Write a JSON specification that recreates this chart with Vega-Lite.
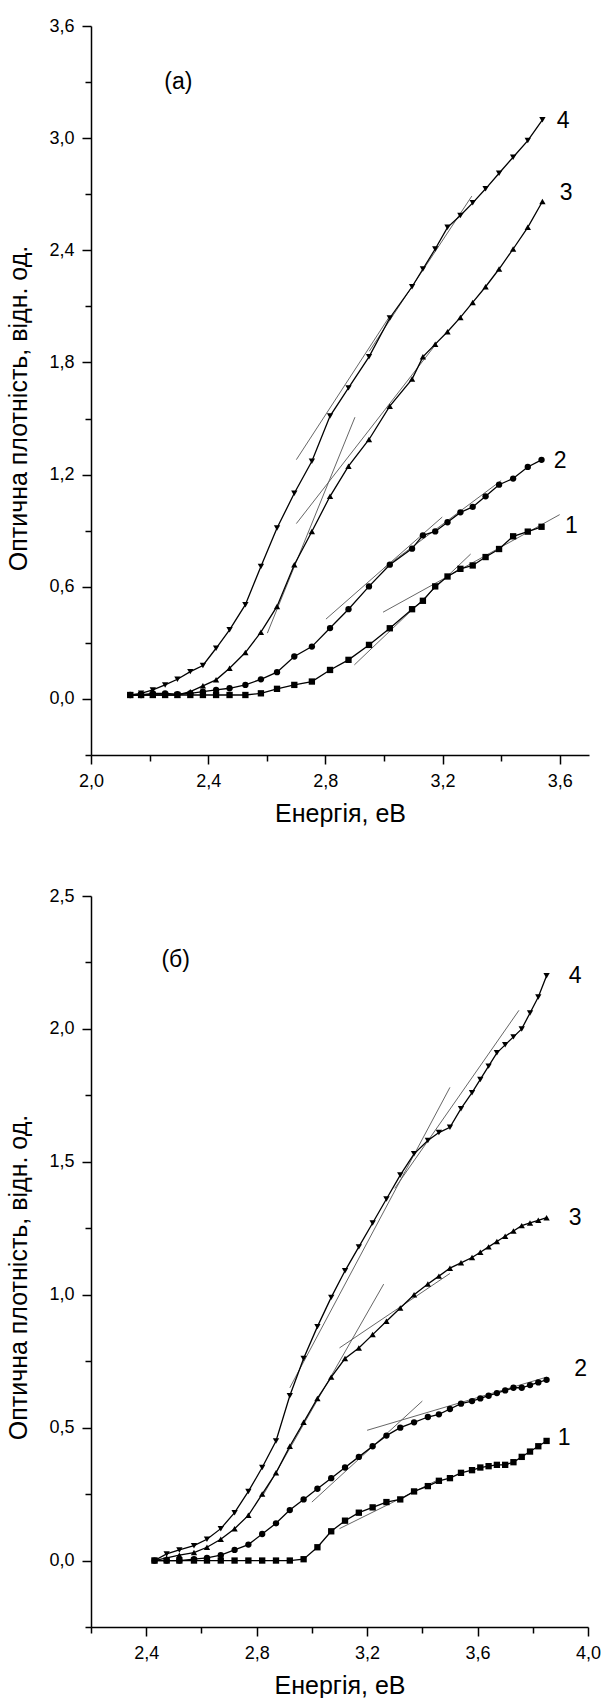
{
  "$schema": "https://vega.github.io/schema/vega-lite/v6.json",
  "background": "white",
  "padding": {"left": 6, "top": 17, "right": 0, "bottom": 0},
  "spacing": 61,
  "config": {
    "font": "Liberation Sans",
    "view": {"stroke": null},
    "axis": {
      "domainColor": "black", "domainWidth": 1.5, "tickColor": "black", "tickWidth": 1.5,
      "labelFont": "Liberation Sans", "labelFontSize": 18, "labelColor": "black",
      "titleFont": "Liberation Sans", "titleFontSize": 25, "titleFontWeight": "normal", "titleColor": "black",
      "grid": false, "labelPadding": 8, "labelFlush": false, "labelOverlap": false, "labelBound": false
    },
    "text": {"font": "Liberation Sans", "color": "black"}
  },
  "datasets": {
    "pa": [
      {"e":2.134,"v":0.021,"c":"1"},{"e":2.171,"v":0.021,"c":"1"},{"e":2.211,"v":0.021,"c":"1"},{"e":2.253,"v":0.021,"c":"1"},{"e":2.295,"v":0.021,"c":"1"},{"e":2.339,"v":0.021,"c":"1"},{"e":2.382,"v":0.021,"c":"1"},{"e":2.427,"v":0.021,"c":"1"},{"e":2.473,"v":0.021,"c":"1"},{"e":2.527,"v":0.021,"c":"1"},{"e":2.580,"v":0.030,"c":"1"},{"e":2.635,"v":0.054,"c":"1"},{"e":2.694,"v":0.075,"c":"1"},{"e":2.754,"v":0.093,"c":"1"},{"e":2.816,"v":0.155,"c":"1"},{"e":2.879,"v":0.209,"c":"1"},{"e":2.949,"v":0.289,"c":"1"},{"e":3.020,"v":0.378,"c":"1"},{"e":3.096,"v":0.480,"c":"1"},{"e":3.133,"v":0.525,"c":"1"},{"e":3.175,"v":0.602,"c":"1"},{"e":3.217,"v":0.655,"c":"1"},{"e":3.261,"v":0.696,"c":"1"},{"e":3.303,"v":0.714,"c":"1"},{"e":3.347,"v":0.759,"c":"1"},{"e":3.393,"v":0.802,"c":"1"},{"e":3.441,"v":0.870,"c":"1"},{"e":3.491,"v":0.895,"c":"1"},{"e":3.538,"v":0.921,"c":"1"},
      {"e":2.134,"v":0.021,"c":"2"},{"e":2.171,"v":0.021,"c":"2"},{"e":2.211,"v":0.030,"c":"2"},{"e":2.253,"v":0.030,"c":"2"},{"e":2.295,"v":0.025,"c":"2"},{"e":2.339,"v":0.030,"c":"2"},{"e":2.382,"v":0.039,"c":"2"},{"e":2.427,"v":0.048,"c":"2"},{"e":2.473,"v":0.057,"c":"2"},{"e":2.527,"v":0.075,"c":"2"},{"e":2.580,"v":0.105,"c":"2"},{"e":2.635,"v":0.143,"c":"2"},{"e":2.694,"v":0.227,"c":"2"},{"e":2.754,"v":0.280,"c":"2"},{"e":2.816,"v":0.379,"c":"2"},{"e":2.879,"v":0.480,"c":"2"},{"e":2.949,"v":0.602,"c":"2"},{"e":3.020,"v":0.718,"c":"2"},{"e":3.096,"v":0.804,"c":"2"},{"e":3.133,"v":0.875,"c":"2"},{"e":3.175,"v":0.896,"c":"2"},{"e":3.217,"v":0.945,"c":"2"},{"e":3.261,"v":0.998,"c":"2"},{"e":3.303,"v":1.027,"c":"2"},{"e":3.347,"v":1.084,"c":"2"},{"e":3.393,"v":1.146,"c":"2"},{"e":3.441,"v":1.179,"c":"2"},{"e":3.491,"v":1.241,"c":"2"},{"e":3.538,"v":1.279,"c":"2"},
      {"e":2.134,"v":0.021,"c":"3"},{"e":2.171,"v":0.021,"c":"3"},{"e":2.211,"v":0.021,"c":"3"},{"e":2.253,"v":0.021,"c":"3"},{"e":2.295,"v":0.021,"c":"3"},{"e":2.339,"v":0.039,"c":"3"},{"e":2.382,"v":0.070,"c":"3"},{"e":2.427,"v":0.102,"c":"3"},{"e":2.473,"v":0.164,"c":"3"},{"e":2.527,"v":0.248,"c":"3"},{"e":2.580,"v":0.357,"c":"3"},{"e":2.635,"v":0.495,"c":"3"},{"e":2.694,"v":0.718,"c":"3"},{"e":2.754,"v":0.896,"c":"3"},{"e":2.816,"v":1.084,"c":"3"},{"e":2.879,"v":1.245,"c":"3"},{"e":2.949,"v":1.388,"c":"3"},{"e":3.020,"v":1.566,"c":"3"},{"e":3.096,"v":1.711,"c":"3"},{"e":3.133,"v":1.830,"c":"3"},{"e":3.175,"v":1.898,"c":"3"},{"e":3.217,"v":1.964,"c":"3"},{"e":3.261,"v":2.041,"c":"3"},{"e":3.303,"v":2.121,"c":"3"},{"e":3.347,"v":2.205,"c":"3"},{"e":3.393,"v":2.300,"c":"3"},{"e":3.441,"v":2.407,"c":"3"},{"e":3.491,"v":2.523,"c":"3"},{"e":3.541,"v":2.661,"c":"3"},
      {"e":2.134,"v":0.021,"c":"4"},{"e":2.171,"v":0.030,"c":"4"},{"e":2.211,"v":0.048,"c":"4"},{"e":2.253,"v":0.075,"c":"4"},{"e":2.295,"v":0.105,"c":"4"},{"e":2.339,"v":0.146,"c":"4"},{"e":2.382,"v":0.179,"c":"4"},{"e":2.427,"v":0.271,"c":"4"},{"e":2.473,"v":0.370,"c":"4"},{"e":2.527,"v":0.504,"c":"4"},{"e":2.580,"v":0.709,"c":"4"},{"e":2.635,"v":0.914,"c":"4"},{"e":2.694,"v":1.100,"c":"4"},{"e":2.754,"v":1.271,"c":"4"},{"e":2.816,"v":1.513,"c":"4"},{"e":2.879,"v":1.664,"c":"4"},{"e":2.949,"v":1.830,"c":"4"},{"e":3.020,"v":2.038,"c":"4"},{"e":3.096,"v":2.205,"c":"4"},{"e":3.133,"v":2.300,"c":"4"},{"e":3.175,"v":2.407,"c":"4"},{"e":3.217,"v":2.523,"c":"4"},{"e":3.261,"v":2.586,"c":"4"},{"e":3.303,"v":2.654,"c":"4"},{"e":3.347,"v":2.729,"c":"4"},{"e":3.393,"v":2.812,"c":"4"},{"e":3.441,"v":2.898,"c":"4"},{"e":3.491,"v":2.987,"c":"4"},{"e":3.541,"v":3.098,"c":"4"}
    ],
    "ta": [
      {"x1":2.899,"y1":0.182,"x2":3.296,"y2":0.775},
      {"x1":2.997,"y1":0.464,"x2":3.600,"y2":0.986},
      {"x1":2.802,"y1":0.427,"x2":3.199,"y2":0.973},
      {"x1":3.000,"y1":0.700,"x2":3.400,"y2":1.168},
      {"x1":2.602,"y1":0.352,"x2":2.901,"y2":1.507},
      {"x1":2.701,"y1":0.938,"x2":3.182,"y2":1.907},
      {"x1":2.701,"y1":1.280,"x2":3.017,"y2":2.041},
      {"x1":2.950,"y1":1.860,"x2":3.300,"y2":2.690}
    ],
    "la": [
      {"e":3.59,"v":3.09,"t":"4"},{"e":3.60,"v":2.705,"t":"3"},{"e":3.58,"v":1.275,"t":"2"},{"e":3.618,"v":0.923,"t":"1"},{"e":2.25,"v":3.30,"t":"(a)"}
    ],
    "pb": [
      {"e":2.43,"v":0.0,"c":"1"},{"e":2.474,"v":0.0,"c":"1"},{"e":2.52,"v":0.0,"c":"1"},{"e":2.573,"v":0.0,"c":"1"},{"e":2.62,"v":0.0,"c":"1"},{"e":2.67,"v":0.0,"c":"1"},{"e":2.72,"v":0.0,"c":"1"},{"e":2.77,"v":0.0,"c":"1"},{"e":2.82,"v":0.0,"c":"1"},{"e":2.87,"v":0.0,"c":"1"},{"e":2.92,"v":0.0,"c":"1"},{"e":2.97,"v":0.005,"c":"1"},{"e":3.02,"v":0.05,"c":"1"},{"e":3.07,"v":0.11,"c":"1"},{"e":3.12,"v":0.15,"c":"1"},{"e":3.17,"v":0.18,"c":"1"},{"e":3.22,"v":0.20,"c":"1"},{"e":3.27,"v":0.22,"c":"1"},{"e":3.32,"v":0.23,"c":"1"},{"e":3.37,"v":0.26,"c":"1"},{"e":3.42,"v":0.28,"c":"1"},{"e":3.46,"v":0.30,"c":"1"},{"e":3.50,"v":0.31,"c":"1"},{"e":3.54,"v":0.33,"c":"1"},{"e":3.58,"v":0.34,"c":"1"},{"e":3.61,"v":0.35,"c":"1"},{"e":3.64,"v":0.355,"c":"1"},{"e":3.67,"v":0.36,"c":"1"},{"e":3.70,"v":0.36,"c":"1"},{"e":3.73,"v":0.37,"c":"1"},{"e":3.76,"v":0.39,"c":"1"},{"e":3.79,"v":0.41,"c":"1"},{"e":3.82,"v":0.43,"c":"1"},{"e":3.85,"v":0.45,"c":"1"},
      {"e":2.43,"v":0.0,"c":"2"},{"e":2.474,"v":0.0,"c":"2"},{"e":2.52,"v":0.0,"c":"2"},{"e":2.573,"v":0.005,"c":"2"},{"e":2.62,"v":0.01,"c":"2"},{"e":2.67,"v":0.02,"c":"2"},{"e":2.72,"v":0.04,"c":"2"},{"e":2.77,"v":0.06,"c":"2"},{"e":2.82,"v":0.10,"c":"2"},{"e":2.87,"v":0.14,"c":"2"},{"e":2.92,"v":0.19,"c":"2"},{"e":2.97,"v":0.23,"c":"2"},{"e":3.02,"v":0.27,"c":"2"},{"e":3.07,"v":0.31,"c":"2"},{"e":3.12,"v":0.35,"c":"2"},{"e":3.17,"v":0.39,"c":"2"},{"e":3.22,"v":0.43,"c":"2"},{"e":3.27,"v":0.47,"c":"2"},{"e":3.32,"v":0.50,"c":"2"},{"e":3.37,"v":0.52,"c":"2"},{"e":3.42,"v":0.54,"c":"2"},{"e":3.46,"v":0.55,"c":"2"},{"e":3.50,"v":0.57,"c":"2"},{"e":3.54,"v":0.59,"c":"2"},{"e":3.58,"v":0.60,"c":"2"},{"e":3.61,"v":0.61,"c":"2"},{"e":3.64,"v":0.62,"c":"2"},{"e":3.67,"v":0.63,"c":"2"},{"e":3.70,"v":0.64,"c":"2"},{"e":3.73,"v":0.65,"c":"2"},{"e":3.76,"v":0.65,"c":"2"},{"e":3.79,"v":0.66,"c":"2"},{"e":3.82,"v":0.67,"c":"2"},{"e":3.85,"v":0.68,"c":"2"},
      {"e":2.43,"v":0.0,"c":"3"},{"e":2.474,"v":0.01,"c":"3"},{"e":2.52,"v":0.02,"c":"3"},{"e":2.573,"v":0.03,"c":"3"},{"e":2.62,"v":0.05,"c":"3"},{"e":2.67,"v":0.08,"c":"3"},{"e":2.72,"v":0.12,"c":"3"},{"e":2.77,"v":0.17,"c":"3"},{"e":2.82,"v":0.25,"c":"3"},{"e":2.87,"v":0.33,"c":"3"},{"e":2.92,"v":0.43,"c":"3"},{"e":2.97,"v":0.52,"c":"3"},{"e":3.02,"v":0.61,"c":"3"},{"e":3.07,"v":0.69,"c":"3"},{"e":3.12,"v":0.76,"c":"3"},{"e":3.17,"v":0.80,"c":"3"},{"e":3.22,"v":0.85,"c":"3"},{"e":3.27,"v":0.90,"c":"3"},{"e":3.32,"v":0.95,"c":"3"},{"e":3.37,"v":1.00,"c":"3"},{"e":3.42,"v":1.04,"c":"3"},{"e":3.46,"v":1.07,"c":"3"},{"e":3.50,"v":1.10,"c":"3"},{"e":3.54,"v":1.12,"c":"3"},{"e":3.58,"v":1.14,"c":"3"},{"e":3.61,"v":1.16,"c":"3"},{"e":3.64,"v":1.18,"c":"3"},{"e":3.67,"v":1.20,"c":"3"},{"e":3.70,"v":1.22,"c":"3"},{"e":3.73,"v":1.24,"c":"3"},{"e":3.76,"v":1.26,"c":"3"},{"e":3.79,"v":1.27,"c":"3"},{"e":3.82,"v":1.28,"c":"3"},{"e":3.85,"v":1.29,"c":"3"},
      {"e":2.43,"v":0.0,"c":"4"},{"e":2.474,"v":0.025,"c":"4"},{"e":2.52,"v":0.04,"c":"4"},{"e":2.573,"v":0.056,"c":"4"},{"e":2.62,"v":0.08,"c":"4"},{"e":2.67,"v":0.12,"c":"4"},{"e":2.72,"v":0.18,"c":"4"},{"e":2.77,"v":0.26,"c":"4"},{"e":2.82,"v":0.35,"c":"4"},{"e":2.87,"v":0.45,"c":"4"},{"e":2.92,"v":0.62,"c":"4"},{"e":2.97,"v":0.76,"c":"4"},{"e":3.02,"v":0.88,"c":"4"},{"e":3.07,"v":0.99,"c":"4"},{"e":3.12,"v":1.09,"c":"4"},{"e":3.17,"v":1.18,"c":"4"},{"e":3.22,"v":1.27,"c":"4"},{"e":3.27,"v":1.36,"c":"4"},{"e":3.32,"v":1.45,"c":"4"},{"e":3.37,"v":1.53,"c":"4"},{"e":3.42,"v":1.58,"c":"4"},{"e":3.46,"v":1.61,"c":"4"},{"e":3.50,"v":1.63,"c":"4"},{"e":3.54,"v":1.70,"c":"4"},{"e":3.58,"v":1.76,"c":"4"},{"e":3.61,"v":1.81,"c":"4"},{"e":3.64,"v":1.86,"c":"4"},{"e":3.67,"v":1.91,"c":"4"},{"e":3.70,"v":1.94,"c":"4"},{"e":3.73,"v":1.97,"c":"4"},{"e":3.76,"v":2.00,"c":"4"},{"e":3.79,"v":2.06,"c":"4"},{"e":3.82,"v":2.12,"c":"4"},{"e":3.85,"v":2.20,"c":"4"}
    ],
    "tb": [
      {"x1":2.92,"y1":0.65,"x2":3.50,"y2":1.78},
      {"x1":3.30,"y1":1.40,"x2":3.75,"y2":2.07},
      {"x1":2.82,"y1":0.24,"x2":3.26,"y2":1.04},
      {"x1":3.10,"y1":0.80,"x2":3.50,"y2":1.08},
      {"x1":3.00,"y1":0.22,"x2":3.40,"y2":0.60},
      {"x1":3.20,"y1":0.49,"x2":3.85,"y2":0.69},
      {"x1":3.10,"y1":0.12,"x2":3.45,"y2":0.30}
    ],
    "lb": [
      {"e":3.93,"v":2.20,"t":"4"},{"e":3.93,"v":1.29,"t":"3"},{"e":3.95,"v":0.72,"t":"2"},{"e":3.89,"v":0.46,"t":"1"},{"e":2.455,"v":2.26,"t":"(б)"}
    ]
  },
  "vconcat": [
    {
      "width": 498, "height": 729,
      "layer": [
        {
          "data": {"name": "ta"},
          "mark": {"type": "rule", "color": "#555555", "strokeWidth": 0.9},
          "encoding": {
            "x": {"field": "x1", "type": "quantitative"},
            "y": {"field": "y1", "type": "quantitative"},
            "x2": {"field": "x2"}, "y2": {"field": "y2"}
          }
        },
        {
          "data": {"name": "pa"},
          "mark": {"type": "line", "color": "black", "strokeWidth": 1.3},
          "encoding": {
            "x": {"field": "e", "type": "quantitative"},
            "y": {"field": "v", "type": "quantitative"},
            "detail": {"field": "c"}
          }
        },
        {
          "data": {"name": "pa"},
          "mark": {"type": "point", "filled": true, "color": "black", "opacity": 1, "size": 40},
          "encoding": {
            "x": {"field": "e", "type": "quantitative",
              "scale": {"domain": [2.0, 3.7], "nice": false, "zero": false},
              "axis": {"title": "Енергія, еВ", "values": [2.0, 2.2, 2.4, 2.6, 2.8, 3.0, 3.2, 3.4, 3.6],
                "labelExpr": "abs(datum.value/0.4 - round(datum.value/0.4)) < 0.01 ? replace(format(datum.value, '.1f'), '.', ',') : ''",
                "tickSize": {"condition": {"test": "abs(datum.value/0.4 - round(datum.value/0.4)) < 0.01", "value": 9}, "value": 6},
                "titlePadding": 11}},
            "y": {"field": "v", "type": "quantitative",
              "scale": {"domain": [-0.3, 3.6], "nice": false, "zero": false},
              "axis": {"title": "Оптична плотність, відн. од.", "values": [-0.3, 0, 0.3, 0.6, 0.9, 1.2, 1.5, 1.8, 2.1, 2.4, 2.7, 3.0, 3.3, 3.6],
                "labelExpr": "abs(datum.value/0.6 - round(datum.value/0.6)) < 0.01 ? replace(format(datum.value, '.1f'), '.', ',') : ''",
                "tickSize": {"condition": {"test": "abs(datum.value/0.6 - round(datum.value/0.6)) < 0.01", "value": 9}, "value": 6},
                "titlePadding": 17, "titleY": 382}},
            "shape": {"field": "c", "type": "nominal", "legend": null,
              "scale": {"domain": ["1", "2", "3", "4"], "range": ["square", "circle", "triangle-up", "triangle-down"]}}
          }
        },
        {
          "data": {"name": "la"},
          "mark": {"type": "text", "fontSize": 23, "align": "left", "baseline": "middle"},
          "encoding": {
            "x": {"field": "e", "type": "quantitative"},
            "y": {"field": "v", "type": "quantitative"},
            "text": {"field": "t"}
          }
        }
      ]
    },
    {
      "width": 497, "height": 731,
      "layer": [
        {
          "data": {"name": "tb"},
          "mark": {"type": "rule", "color": "#555555", "strokeWidth": 0.9},
          "encoding": {
            "x": {"field": "x1", "type": "quantitative"},
            "y": {"field": "y1", "type": "quantitative"},
            "x2": {"field": "x2"}, "y2": {"field": "y2"}
          }
        },
        {
          "data": {"name": "pb"},
          "mark": {"type": "line", "color": "black", "strokeWidth": 1.3},
          "encoding": {
            "x": {"field": "e", "type": "quantitative"},
            "y": {"field": "v", "type": "quantitative"},
            "detail": {"field": "c"}
          }
        },
        {
          "data": {"name": "pb"},
          "mark": {"type": "point", "filled": true, "color": "black", "opacity": 1, "size": 40},
          "encoding": {
            "x": {"field": "e", "type": "quantitative",
              "scale": {"domain": [2.2, 4.0], "nice": false, "zero": false},
              "axis": {"title": "Енергія, еВ", "values": [2.2, 2.4, 2.6, 2.8, 3.0, 3.2, 3.4, 3.6, 3.8, 4.0],
                "labelExpr": "abs(datum.value/0.4 - round(datum.value/0.4)) < 0.01 ? replace(format(datum.value, '.1f'), '.', ',') : ''",
                "tickSize": {"condition": {"test": "abs(datum.value/0.4 - round(datum.value/0.4)) < 0.01", "value": 9}, "value": 6},
                "titlePadding": 11}},
            "y": {"field": "v", "type": "quantitative",
              "scale": {"domain": [-0.25, 2.5], "nice": false, "zero": false},
              "axis": {"title": "Оптична плотність, відн. од.", "values": [-0.25, 0, 0.25, 0.5, 0.75, 1.0, 1.25, 1.5, 1.75, 2.0, 2.25, 2.5],
                "labelExpr": "abs(datum.value/0.5 - round(datum.value/0.5)) < 0.01 ? replace(format(datum.value, '.1f'), '.', ',') : ''",
                "tickSize": {"condition": {"test": "abs(datum.value/0.5 - round(datum.value/0.5)) < 0.01", "value": 9}, "value": 6},
                "titlePadding": 17, "titleY": 381}},
            "shape": {"field": "c", "type": "nominal", "legend": null,
              "scale": {"domain": ["1", "2", "3", "4"], "range": ["square", "circle", "triangle-up", "triangle-down"]}}
          }
        },
        {
          "data": {"name": "lb"},
          "mark": {"type": "text", "fontSize": 23, "align": "left", "baseline": "middle"},
          "encoding": {
            "x": {"field": "e", "type": "quantitative"},
            "y": {"field": "v", "type": "quantitative"},
            "text": {"field": "t"}
          }
        }
      ]
    }
  ]
}
